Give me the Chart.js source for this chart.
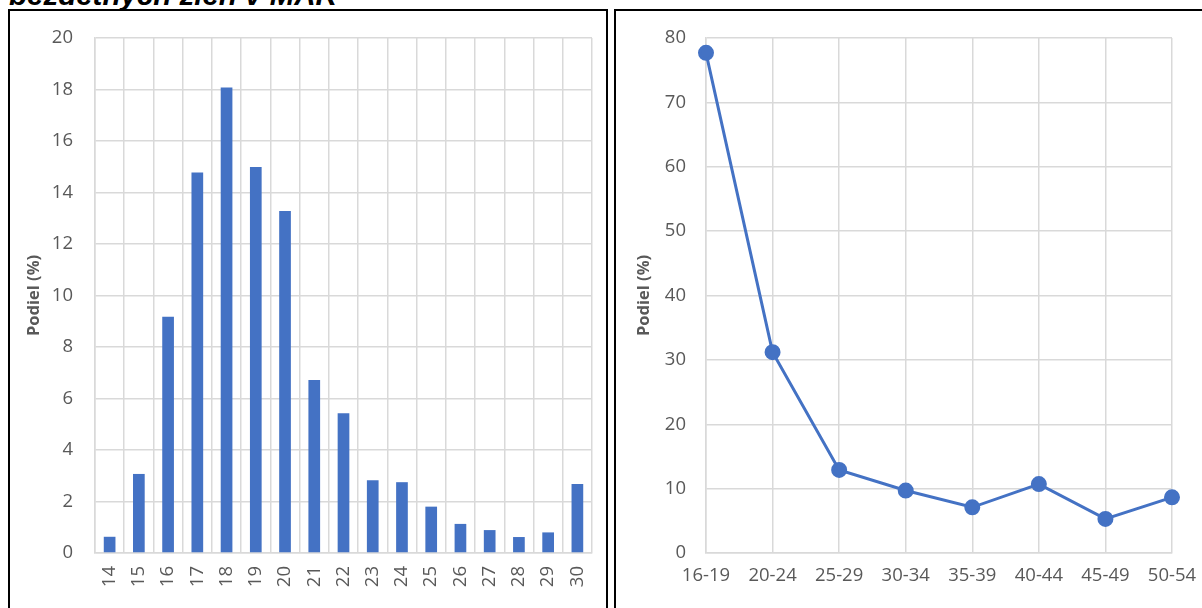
<!DOCTYPE html>
<html>
<head>
<meta charset="utf-8">
<script src="https://cdn.jsdelivr.net/npm/chart.js@4"></script>
<style>
  html, body { margin: 0; padding: 0; background: #fff; width: 1202px; height: 608px; overflow: hidden; position: relative; }
  .title { position: absolute; left: 9px; top: -20px; font: italic bold 29.5px "Liberation Sans", Arial, sans-serif; line-height: 29.5px; color: #000; white-space: nowrap; }
  .box { position: absolute; border: 2px solid #000; box-sizing: border-box; }
  #box1 { left: 8px; top: 9px; width: 600px; height: 640px; }
  #box2 { left: 614px; top: 9px; width: 620px; height: 640px; }
  canvas { position: absolute; top: 0; }
  #c1 { left: 0; }
  #c2 { left: 606px; }
</style>
</head>
<body>
<div class="title">bezdetných žien v MAR</div>
<div class="box" id="box1"></div>
<div class="box" id="box2"></div>
<canvas id="c1" width="606" height="608" style="width:606px;height:608px"></canvas>
<canvas id="c2" width="596" height="608" style="width:596px;height:608px"></canvas>
<script>
// Left chart: share by age (years)
const ageLabels = ['14','15','16','17','18','19','20','21','22','23','24','25','26','27','28','29','30'];
const ageShares = [0.63, 3.07, 9.17, 14.78, 18.08, 14.99, 13.28, 6.72, 5.43, 2.83, 2.75, 1.8, 1.13, 0.89, 0.62, 0.8, 2.68];
const ageTicksMax = 20;
const ageTicksStep = 2;

// Right chart: share by age group
const groupLabels = ['16-19','20-24','25-29','30-34','35-39','40-44','45-49','50-54'];
const groupShares = [77.7, 31.2, 12.9, 9.7, 7.1, 10.7, 5.3, 8.65];
const groupTicksMax = 80;
const groupTicksStep = 10;

const axisTitle = 'Podiel (%)';
const blue = '#4472C4';
const gridColor = '#d9d9d9';
const tickColor = '#595959';
const tickFont = { family: '"Open Sans", sans-serif', size: 18.5 };
const titleFont = { family: '"Open Sans", sans-serif', size: 16.5, weight: 'bold' };

Chart.defaults.animation = false;
Chart.defaults.responsive = false;
Chart.defaults.devicePixelRatio = 1;

const noSidePad = s => { s.paddingLeft = 0; s.paddingRight = 0; };

new Chart(document.getElementById('c1'), {
  type: 'bar',
  data: {
    labels: ageLabels,
    datasets: [{ data: ageShares, backgroundColor: blue, borderWidth: 0, categoryPercentage: 1, barPercentage: 0.4 }]
  },
  options: {
    layout: { padding: { top: 38, right: 14, left: 0, bottom: 0 } },
    plugins: { legend: { display: false }, tooltip: { enabled: false } },
    scales: {
      x: {
        grid: { color: gridColor, lineWidth: 1.5, drawTicks: false, offset: true },
        border: { color: gridColor, width: 1.5 },
        ticks: { color: tickColor, font: tickFont, minRotation: 90, maxRotation: 90, padding: 13, autoSkip: false },
        afterFit: s => { s.height = 55; noSidePad(s); }
      },
      y: {
        min: 0, max: ageTicksMax,
        grid: { color: gridColor, lineWidth: 1.5, drawTicks: false },
        border: { color: gridColor, width: 1.5 },
        ticks: { color: tickColor, font: tickFont, stepSize: ageTicksStep, padding: 22 },
        title: { display: true, text: axisTitle, color: tickColor, font: titleFont, padding: { top: 24, bottom: 0 } },
        afterFit: s => { s.width = 95; }
      }
    }
  }
});

new Chart(document.getElementById('c2'), {
  type: 'line',
  data: {
    labels: groupLabels,
    datasets: [{
      data: groupShares, borderColor: blue, backgroundColor: blue, borderWidth: 3,
      pointRadius: 6.5, pointBackgroundColor: blue, pointBorderColor: blue, tension: 0
    }]
  },
  options: {
    layout: { padding: { top: 38, right: 30, left: 0, bottom: 0 } },
    plugins: { legend: { display: false }, tooltip: { enabled: false } },
    scales: {
      x: {
        offset: false,
        grid: { color: gridColor, lineWidth: 1.5, drawTicks: false, offset: false },
        border: { color: gridColor, width: 1.5 },
        ticks: { color: tickColor, font: tickFont, maxRotation: 0, padding: 12, autoSkip: false },
        afterFit: s => { s.height = 55; noSidePad(s); }
      },
      y: {
        min: 0, max: groupTicksMax,
        grid: { color: gridColor, lineWidth: 1.5, drawTicks: false },
        border: { color: gridColor, width: 1.5 },
        ticks: { color: tickColor, font: tickFont, stepSize: groupTicksStep, padding: 20 },
        title: { display: true, text: axisTitle, color: tickColor, font: titleFont, padding: { top: 28, bottom: 0 } },
        afterFit: s => { s.width = 100; }
      }
    }
  }
});
</script>
</body>
</html>
